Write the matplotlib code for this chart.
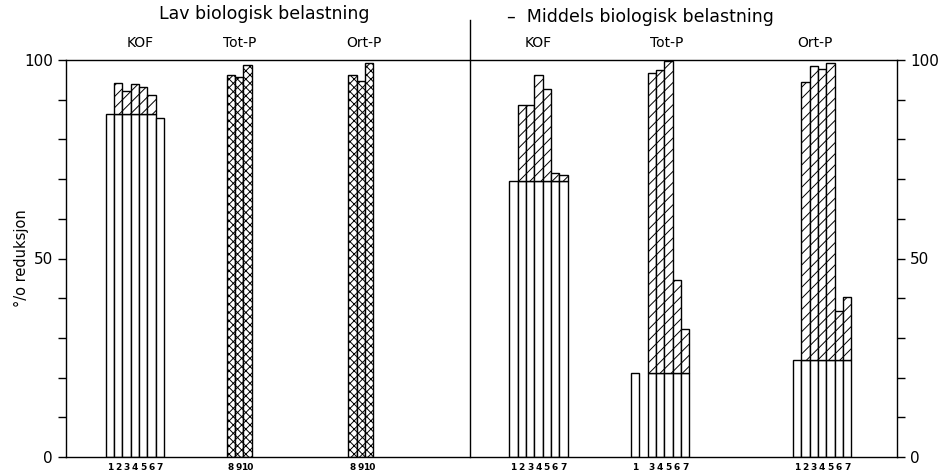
import numpy as np
import matplotlib.pyplot as plt
from matplotlib.ticker import MultipleLocator

plt.rcParams['font.family'] = 'DejaVu Sans'
plt.rcParams['hatch.linewidth'] = 0.7

###data (% reduksjon)
#open part = base level, hatched part = from base up to top
lav_kof_lab = ['1', '2', '3', '4', '5', '6', '7']
lav_kof_base = [86.5, 86.5, 86.5, 86.5, 86.5, 86.5, 85.5]
lav_kof_top = [86.5, 94.3, 92.3, 94.0, 93.2, 91.3, 85.5]

lav_totp_lab = ['8', '9', '10']
lav_totp = [96.3, 95.8, 98.7]

lav_ortp_lab = ['8', '9', '10']
lav_ortp = [96.2, 94.8, 99.2]

mid_kof_lab = ['1', '2', '3', '4', '5', '6', '7']
mid_kof_base = [69.6, 69.6, 69.6, 69.6, 69.6, 69.6, 69.6]
mid_kof_top = [69.6, 88.6, 88.6, 96.3, 92.6, 71.5, 71.0]

mid_totp_lab = ['1', '', '3', '4', '5', '6', '7']
mid_totp_base = [21.2, np.nan, 21.2, 21.2, 21.2, 21.2, 21.2]
mid_totp_top = [21.2, np.nan, 96.6, 97.5, 99.8, 44.6, 32.2]

mid_ortp_lab = ['1', '2', '3', '4', '5', '6', '7']
mid_ortp_base = [24.4, 24.4, 24.4, 24.4, 24.4, 24.4, 24.4]
mid_ortp_top = [24.4, 94.5, 98.5, 97.7, 99.3, 36.9, 40.2]

###layout: left edge of first bar of each group (bar slots of width 1), x of group title
groups = [
    ('KOF', 4.78, 8.9, lav_kof_lab, lav_kof_base, lav_kof_top, '///'),
    ('Tot-P', 19.34, 20.9, lav_totp_lab, [0]*3, lav_totp, 'xxxx'),
    ('Ort-P', 33.97, 35.9, lav_ortp_lab, [0]*3, lav_ortp, 'xxxx'),
    ('KOF', 53.35, 56.8, mid_kof_lab, mid_kof_base, mid_kof_top, '///'),
    ('Tot-P', 68.0, 72.3, mid_totp_lab, mid_totp_base, mid_totp_top, '///'),
    ('Ort-P', 87.5, 90.1, mid_ortp_lab, mid_ortp_base, mid_ortp_top, '///'),
]
divider = 48.6

fig = plt.figure(figsize=(9.38, 4.75), dpi=100)
ax = fig.add_axes([66/938, 18/475, 831/938, 397/475])

xt = []
xl = []
for name, x0, xname, labs, base, top, hatch in groups:
    n = len(labs)
    xs = x0 + np.arange(n)
    for x, lab, b, t in zip(xs, labs, base, top):
        xt.append(x + 0.5)
        xl.append(lab)
        if np.isnan(t):
            continue
        if b > 0:
            ax.bar(x, b, width=1, align='edge', facecolor='white', edgecolor='black', linewidth=1.0)
        if t > b:
            ax.bar(x, t - b, bottom=b, width=1, align='edge', facecolor='white',
                   edgecolor='black', linewidth=1.0, hatch=hatch)
    ax.text(xname, 104.3, name, ha='center', va='center', fontsize=10)

#divider between the two loads
ax.plot([divider, divider], [0, 110], color='black', linewidth=1.0, clip_on=False)
ax.text(23.9, 111.5, 'Lav biologisk belastning', ha='center', va='center', fontsize=12.5)
ax.text(53.1, 110.8, '\u2013  Middels biologisk belastning', ha='left', va='center', fontsize=12.5)

ax.set_xlim(0, 100)
ax.set_ylim(0, 100)
ax.set_yticks([0, 50, 100])
ax.yaxis.set_minor_locator(MultipleLocator(10))
ax.tick_params(axis='y', which='both', direction='out', length=6, width=1,
               left=True, right=True, labelleft=True, labelright=True, labelsize=11)
ax.set_xticks(xt, xl)
ax.tick_params(axis='x', length=0, labelsize=6.5, pad=4)
for lab in ax.get_xticklabels():
    lab.set_fontweight('bold')
for s in ax.spines.values():
    s.set_linewidth(1.0)
ax.set_ylabel('\u00b0/o reduksjon', fontsize=10.5)
ax.yaxis.set_label_coords(-0.045, 0.5)

plt.savefig('out.png', dpi=100)
